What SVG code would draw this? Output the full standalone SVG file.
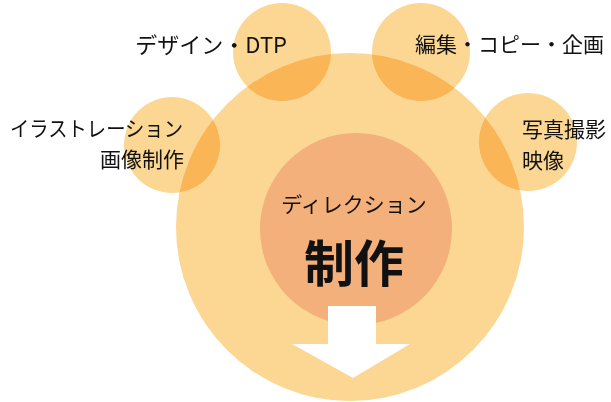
<svg xmlns="http://www.w3.org/2000/svg" width="611" height="402" viewBox="0 0 611 402">
  <style>
    .big { fill: #FCD794; }
    .sat { fill: #FCD794; mix-blend-mode: multiply; }
    .core { fill: #F4B07B; }
    .arrow { fill: #FFFFFF; }
    text { font-family: "Noto Sans CJK JP", "Noto Sans", sans-serif; fill: #111111; }
    .lbl { font-size: 21px; }
    .dir { font-size: 21px; }
    .main { font-size: 50px; font-weight: bold; }
  </style>
  <rect width="611" height="402" fill="#FFFFFF"/>
  <g id="outer">
    <circle class="big" cx="350" cy="227" r="174"/>
  </g>
  <g id="design-dtp">
    <circle class="sat" cx="282" cy="52" r="49"/>
  </g>
  <g id="edit-copy-plan">
    <circle class="sat" cx="421" cy="52" r="49"/>
  </g>
  <g id="illustration">
    <circle class="sat" cx="172" cy="145" r="48"/>
  </g>
  <g id="photo-video">
    <circle class="sat" cx="528" cy="142" r="49"/>
  </g>
  <g id="core">
    <circle class="core" cx="356" cy="229" r="96"/>
  </g>
  <g id="connectors">
    <polygon class="arrow" points="328,306 376,306 376,344 410,344 353,378 292,344 328,344"/>
  </g>
  <g id="labels">
    <text class="lbl" x="287" y="53" text-anchor="end" style="font-size:22px">デザイン・DTP</text>
    <text class="lbl" x="415" y="52">編集・コピー・企画</text>
    <text class="lbl" x="10" y="136" textLength="173" lengthAdjust="spacingAndGlyphs">イラストレーション</text>
    <text class="lbl" x="184" y="167" text-anchor="end">画像制作</text>
    <text class="lbl" x="522" y="137">写真撮影</text>
    <text class="lbl" x="522" y="168">映像</text>
    <text class="dir" x="354" y="212" text-anchor="middle">ディレクション</text>
    <text class="main" x="354" y="282" text-anchor="middle">制作</text>
  </g>
</svg>
